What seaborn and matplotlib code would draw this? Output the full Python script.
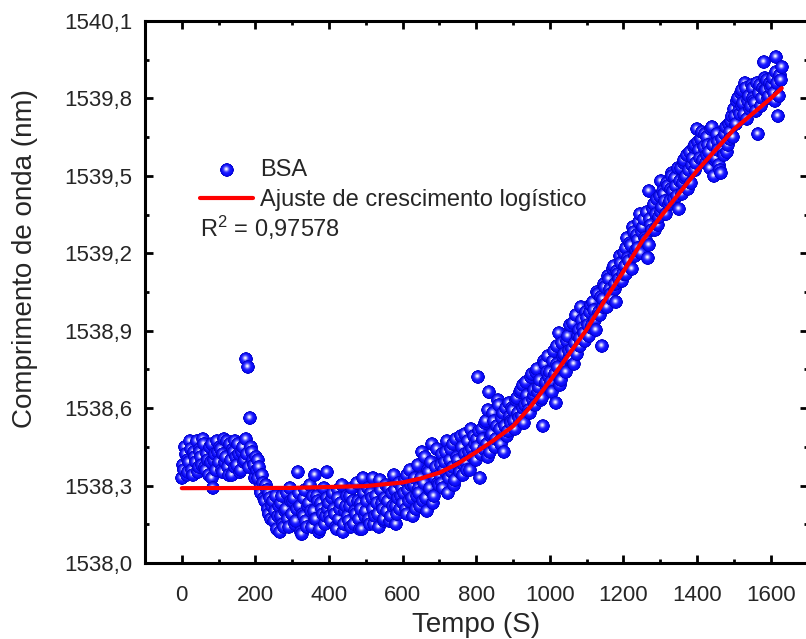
import numpy as np
import pandas as pd
import matplotlib
matplotlib.use("Agg")
import matplotlib.pyplot as plt
import seaborn as sns
from matplotlib.offsetbox import OffsetImage, AnnotationBbox
from matplotlib.ticker import MultipleLocator, FixedLocator

# ---------------- data ----------------
tempo_a = [
    0, 5, 10, 15, 20, 25, 30, 35, 40, 45, 50, 55, 60, 65, 70, 75, 80, 85, 90, 95,
    100, 105, 110, 115, 120, 125, 130, 135, 140, 145, 150, 155, 160, 165, 170, 175, 180, 185, 190, 195,
    200, 205, 210, 215, 220, 225, 230, 235, 240, 245, 250, 255, 260, 265, 270, 275, 280, 285, 290, 295,
    300, 305, 310, 315, 320, 325, 330, 335, 340, 345, 350, 355, 360, 365, 370, 375, 380, 385, 390, 395,
    400, 405, 410, 415, 420, 425, 430, 435, 440, 445, 450, 455, 460, 465, 470, 475, 480, 485, 490, 495,
    500, 505, 510, 515, 520, 525, 530, 535, 540, 545, 550, 555, 560, 565, 570, 575, 580, 585, 590, 595,
    600, 605, 610, 615, 620, 625, 630, 635, 640, 645, 650, 655, 660, 665, 670, 675, 680, 685, 690, 695,
    700, 705, 710, 715, 720, 725, 730, 735, 740, 745, 750, 755, 760, 765, 770, 775, 780, 785, 790, 795,
    800, 805, 810, 815, 820, 825, 830, 835, 840, 845, 850, 855, 860, 865, 870, 875, 880, 885, 890, 895,
    900, 905, 910, 915, 920, 925, 930, 935, 940, 945, 950, 955, 960, 965, 970, 975, 980, 985, 990, 995,
    1000, 1005, 1010, 1015, 1020, 1025, 1030, 1035, 1040, 1045, 1050, 1055, 1060, 1065, 1070, 1075, 1080, 1085, 1090, 1095,
    1100, 1105, 1110, 1115, 1120, 1125, 1130, 1135, 1140, 1145, 1150, 1155, 1160, 1165, 1170, 1175, 1180, 1185, 1190, 1195,
    1200, 1205, 1210, 1215, 1220, 1225, 1230, 1235, 1240, 1245, 1250, 1255, 1260, 1265, 1270, 1275, 1280, 1285, 1290, 1295,
    1300, 1305, 1310, 1315, 1320, 1325, 1330, 1335, 1340, 1345, 1350, 1355, 1360, 1365, 1370, 1375, 1380, 1385, 1390, 1395,
    1400, 1405, 1410, 1415, 1420, 1425, 1430, 1435, 1440, 1445, 1450, 1455, 1460, 1465, 1470, 1475, 1480, 1485, 1490, 1495,
    1500, 1505, 1510, 1515, 1520, 1525, 1530, 1535, 1540, 1545, 1550, 1555, 1560, 1565, 1570, 1575, 1580, 1585, 1590, 1595,
    1600, 1605, 1610, 1615, 1620, 1625, 1630,
]

bsa_a = [
    1538.33, 1538.36, 1538.42, 1538.35, 1538.39, 1538.44, 1538.34, 1538.41, 1538.47, 1538.37,
    1538.43, 1538.38, 1538.46, 1538.36, 1538.40, 1538.45, 1538.33, 1538.29, 1538.42, 1538.47,
    1538.39, 1538.44, 1538.35, 1538.48, 1538.41, 1538.37, 1538.46, 1538.34, 1538.43, 1538.47,
    1538.38, 1538.42, 1538.36, 1538.45, 1538.40, 1538.79, 1538.76, 1538.56, 1538.43, 1538.38,
    1538.41, 1538.33, 1538.37, 1538.27, 1538.31, 1538.24, 1538.28, 1538.19, 1538.25, 1538.22,
    1538.16, 1538.26, 1538.18, 1538.12, 1538.23, 1538.15, 1538.20, 1538.27, 1538.14, 1538.24,
    1538.19, 1538.25, 1538.16, 1538.35, 1538.22, 1538.11, 1538.18, 1538.28, 1538.14, 1538.23,
    1538.20, 1538.26, 1538.34, 1538.17, 1538.24, 1538.13, 1538.21, 1538.29, 1538.18, 1538.35,
    1538.23, 1538.16, 1538.27, 1538.19, 1538.13, 1538.25, 1538.21, 1538.30, 1538.15, 1538.22,
    1538.18, 1538.26, 1538.14, 1538.24, 1538.20, 1538.31, 1538.17, 1538.23, 1538.13, 1538.27,
    1538.20, 1538.29, 1538.15, 1538.25, 1538.33, 1538.18, 1538.23, 1538.14, 1538.28, 1538.21,
    1538.17, 1538.30, 1538.24, 1538.16, 1538.27, 1538.34, 1538.22, 1538.19, 1538.31, 1538.26,
    1538.23, 1538.32, 1538.19, 1538.28, 1538.36, 1538.25, 1538.30, 1538.21, 1538.38, 1538.27,
    1538.33, 1538.24, 1538.41, 1538.20, 1538.35, 1538.29, 1538.46, 1538.26, 1538.37, 1538.31,
    1538.34, 1538.42, 1538.29, 1538.39, 1538.47, 1538.33, 1538.44, 1538.37, 1538.30, 1538.48,
    1538.40, 1538.35, 1538.45, 1538.38, 1538.50, 1538.36, 1538.43, 1538.52, 1538.41, 1538.46,
    1538.48, 1538.72, 1538.33, 1538.52, 1538.44, 1538.55, 1538.41, 1538.66, 1538.49, 1538.58,
    1538.45, 1538.53, 1538.61, 1538.47, 1538.56, 1538.43, 1538.60, 1538.51, 1538.57, 1538.54,
    1538.59, 1538.52, 1538.64, 1538.56, 1538.67, 1538.60, 1538.54, 1538.70, 1538.62, 1538.58,
    1538.73, 1538.65, 1538.61, 1538.75, 1538.68, 1538.63, 1538.53, 1538.77, 1538.70, 1538.80,
    1538.74, 1538.66, 1538.82, 1538.62, 1538.77, 1538.89, 1538.71, 1538.80, 1538.75, 1538.86,
    1538.79, 1538.92, 1538.83, 1538.77, 1538.96, 1538.88, 1538.84, 1538.99, 1538.91, 1538.86,
    1538.95, 1538.88, 1539.00, 1538.92, 1538.98, 1538.90, 1539.04, 1538.96, 1538.84, 1539.02,
    1539.07, 1538.99, 1539.10, 1539.04, 1539.14, 1539.06, 1539.01, 1539.12, 1539.19, 1539.09,
    1539.20, 1539.12, 1539.26, 1539.17, 1539.23, 1539.30, 1539.19, 1539.27, 1539.22, 1539.35,
    1539.28, 1539.33, 1539.25, 1539.18, 1539.44, 1539.31, 1539.37, 1539.29, 1539.41, 1539.34,
    1539.48, 1539.38, 1539.43, 1539.35, 1539.46, 1539.40, 1539.51, 1539.44, 1539.49, 1539.42,
    1539.37, 1539.53, 1539.47, 1539.56, 1539.50, 1539.45, 1539.59, 1539.54, 1539.61, 1539.52,
    1539.68, 1539.60, 1539.64, 1539.56, 1539.66, 1539.58, 1539.62, 1539.53, 1539.69, 1539.50,
    1539.57, 1539.63, 1539.54, 1539.51, 1539.60, 1539.66, 1539.59, 1539.70, 1539.64, 1539.73,
    1539.76, 1539.70, 1539.80, 1539.74, 1539.83, 1539.78, 1539.86, 1539.72, 1539.81, 1539.77,
    1539.84, 1539.79, 1539.75, 1539.66, 1539.85, 1539.80, 1539.94, 1539.83, 1539.87, 1539.81,
    1539.84, 1539.88, 1539.79, 1539.96, 1539.73, 1539.89, 1539.92,
]

tempo_b = [
    2.5, 7.5, 12.5, 17.5, 22.5, 27.5, 32.5, 37.5, 42.5, 47.5, 52.5, 57.5, 62.5, 67.5, 72.5, 77.5, 82.5, 87.5, 92.5, 97.5,
    102.5, 107.5, 112.5, 117.5, 122.5, 127.5, 132.5, 137.5, 142.5, 147.5, 152.5, 157.5, 162.5, 167.5, 172.5, 177.5, 182.5, 187.5, 192.5, 197.5,
    202.5, 207.5, 212.5, 217.5, 222.5, 227.5, 232.5, 237.5, 242.5, 247.5, 252.5, 257.5, 262.5, 267.5, 272.5, 277.5, 282.5, 287.5, 292.5, 297.5,
    302.5, 307.5, 312.5, 317.5, 322.5, 327.5, 332.5, 337.5, 342.5, 347.5, 352.5, 357.5, 362.5, 367.5, 372.5, 377.5, 382.5, 387.5, 392.5, 397.5,
    402.5, 407.5, 412.5, 417.5, 422.5, 427.5, 432.5, 437.5, 442.5, 447.5, 452.5, 457.5, 462.5, 467.5, 472.5, 477.5, 482.5, 487.5, 492.5, 497.5,
    502.5, 507.5, 512.5, 517.5, 522.5, 527.5, 532.5, 537.5, 542.5, 547.5, 552.5, 557.5, 562.5, 567.5, 572.5, 577.5, 582.5, 587.5, 592.5, 597.5,
    602.5, 607.5, 612.5, 617.5, 622.5, 627.5, 632.5, 637.5, 642.5, 647.5, 652.5, 657.5, 662.5, 667.5, 672.5, 677.5, 682.5, 687.5, 692.5, 697.5,
    702.5, 707.5, 712.5, 717.5, 722.5, 727.5, 732.5, 737.5, 742.5, 747.5, 752.5, 757.5, 762.5, 767.5, 772.5, 777.5, 782.5, 787.5, 792.5, 797.5,
    802.5, 807.5, 812.5, 817.5, 822.5, 827.5, 832.5, 837.5, 842.5, 847.5, 852.5, 857.5, 862.5, 867.5, 872.5, 877.5, 882.5, 887.5, 892.5, 897.5,
    902.5, 907.5, 912.5, 917.5, 922.5, 927.5, 932.5, 937.5, 942.5, 947.5, 952.5, 957.5, 962.5, 967.5, 972.5, 977.5, 982.5, 987.5, 992.5, 997.5,
    1002.5, 1007.5, 1012.5, 1017.5, 1022.5, 1027.5, 1032.5, 1037.5, 1042.5, 1047.5, 1052.5, 1057.5, 1062.5, 1067.5, 1072.5, 1077.5, 1082.5, 1087.5, 1092.5, 1097.5,
    1102.5, 1107.5, 1112.5, 1117.5, 1122.5, 1127.5, 1132.5, 1137.5, 1142.5, 1147.5, 1152.5, 1157.5, 1162.5, 1167.5, 1172.5, 1177.5, 1182.5, 1187.5, 1192.5, 1197.5,
    1202.5, 1207.5, 1212.5, 1217.5, 1222.5, 1227.5, 1232.5, 1237.5, 1242.5, 1247.5, 1252.5, 1257.5, 1262.5, 1267.5, 1272.5, 1277.5, 1282.5, 1287.5, 1292.5, 1297.5,
    1302.5, 1307.5, 1312.5, 1317.5, 1322.5, 1327.5, 1332.5, 1337.5, 1342.5, 1347.5, 1352.5, 1357.5, 1362.5, 1367.5, 1372.5, 1377.5, 1382.5, 1387.5, 1392.5, 1397.5,
    1402.5, 1407.5, 1412.5, 1417.5, 1422.5, 1427.5, 1432.5, 1437.5, 1442.5, 1447.5, 1452.5, 1457.5, 1462.5, 1467.5, 1472.5, 1477.5, 1482.5, 1487.5, 1492.5, 1497.5,
    1502.5, 1507.5, 1512.5, 1517.5, 1522.5, 1527.5, 1532.5, 1537.5, 1542.5, 1547.5, 1552.5, 1557.5, 1562.5, 1567.5, 1572.5, 1577.5, 1582.5, 1587.5, 1592.5, 1597.5,
    1602.5, 1607.5, 1612.5, 1617.5, 1622.5, 1627.5,
]

bsa_b = [
    1538.38, 1538.45, 1538.34, 1538.40, 1538.47, 1538.36, 1538.43, 1538.39, 1538.35, 1538.44,
    1538.41, 1538.48, 1538.37, 1538.42, 1538.34, 1538.39, 1538.46, 1538.40, 1538.36, 1538.43,
    1538.45, 1538.36, 1538.42, 1538.39, 1538.47, 1538.34, 1538.40, 1538.44, 1538.37, 1538.41,
    1538.46, 1538.35, 1538.43, 1538.39, 1538.48, 1538.42, 1538.37, 1538.45, 1538.40, 1538.33,
    1538.36, 1538.40, 1538.29, 1538.34, 1538.25, 1538.30, 1538.21, 1538.27, 1538.17, 1538.24,
    1538.20, 1538.13, 1538.22, 1538.18, 1538.26, 1538.14, 1538.21, 1538.17, 1538.29, 1538.19,
    1538.24, 1538.15, 1538.21, 1538.27, 1538.12, 1538.19, 1538.25, 1538.16, 1538.22, 1538.30,
    1538.14, 1538.20, 1538.17, 1538.26, 1538.12, 1538.23, 1538.19, 1538.15, 1538.25, 1538.21,
    1538.18, 1538.25, 1538.21, 1538.14, 1538.28, 1538.17, 1538.23, 1538.12, 1538.20, 1538.26,
    1538.16, 1538.22, 1538.29, 1538.15, 1538.19, 1538.24, 1538.13, 1538.21, 1538.33, 1538.18,
    1538.24, 1538.17, 1538.27, 1538.21, 1538.15, 1538.26, 1538.19, 1538.32, 1538.23, 1538.16,
    1538.25, 1538.20, 1538.29, 1538.18, 1538.22, 1538.28, 1538.15, 1538.25, 1538.21, 1538.29,
    1538.27, 1538.21, 1538.34, 1538.24, 1538.30, 1538.18, 1538.33, 1538.26, 1538.29, 1538.22,
    1538.43, 1538.31, 1538.25, 1538.36, 1538.28, 1538.39, 1538.23, 1538.33, 1538.44, 1538.30,
    1538.38, 1538.31, 1538.36, 1538.43, 1538.27, 1538.40, 1538.35, 1538.46, 1538.32, 1538.41,
    1538.37, 1538.49, 1538.34, 1538.42, 1538.39, 1538.47, 1538.36, 1538.44, 1538.49, 1538.40,
    1538.45, 1538.51, 1538.42, 1538.48, 1538.54, 1538.46, 1538.59, 1538.43, 1538.50, 1538.55,
    1538.48, 1538.63, 1538.52, 1538.46, 1538.58, 1538.53, 1538.49, 1538.62, 1538.55, 1538.60,
    1538.55, 1538.63, 1538.58, 1538.66, 1538.57, 1538.69, 1538.61, 1538.65, 1538.59, 1538.72,
    1538.63, 1538.67, 1538.74, 1538.66, 1538.71, 1538.64, 1538.78, 1538.69, 1538.74, 1538.72,
    1538.70, 1538.78, 1538.73, 1538.84, 1538.76, 1538.69, 1538.85, 1538.81, 1538.74, 1538.88,
    1538.82, 1538.79, 1538.93, 1538.85, 1538.81, 1538.90, 1538.87, 1538.94, 1538.89, 1538.97,
    1538.92, 1538.97, 1538.91, 1539.01, 1538.94, 1539.05, 1538.97, 1539.03, 1538.99, 1539.08,
    1539.00, 1539.11, 1539.06, 1539.02, 1539.15, 1539.08, 1539.13, 1539.10, 1539.16, 1539.12,
    1539.15, 1539.22, 1539.18, 1539.24, 1539.14, 1539.28, 1539.21, 1539.25, 1539.32, 1539.20,
    1539.30, 1539.26, 1539.36, 1539.23, 1539.33, 1539.29, 1539.39, 1539.35, 1539.31, 1539.42,
    1539.36, 1539.44, 1539.40, 1539.47, 1539.39, 1539.45, 1539.50, 1539.41, 1539.46, 1539.53,
    1539.48, 1539.43, 1539.55, 1539.49, 1539.58, 1539.52, 1539.47, 1539.57, 1539.62, 1539.55,
    1539.63, 1539.57, 1539.67, 1539.61, 1539.55, 1539.65, 1539.59, 1539.68, 1539.62, 1539.56,
    1539.66, 1539.60, 1539.52, 1539.64, 1539.58, 1539.69, 1539.62, 1539.67, 1539.71, 1539.65,
    1539.73, 1539.79, 1539.75, 1539.82, 1539.77, 1539.74, 1539.84, 1539.79, 1539.76, 1539.85,
    1539.80, 1539.78, 1539.86, 1539.82, 1539.77, 1539.84, 1539.88, 1539.83, 1539.80, 1539.86,
    1539.85, 1539.82, 1539.90, 1539.86, 1539.81, 1539.87,
]

ajuste_tempo = [0, 300, 500, 600, 650, 700, 750, 800, 850, 900, 950, 1000, 1050, 1100,
                1150, 1200, 1250, 1300, 1350, 1400, 1450, 1500, 1550, 1600, 1630]
ajuste_valor = [1538.290, 1538.291, 1538.298, 1538.312, 1538.328, 1538.350, 1538.385,
                1538.430, 1538.478, 1538.530, 1538.610, 1538.705, 1538.805, 1538.905,
                1539.020, 1539.130, 1539.245, 1539.340, 1539.430, 1539.520, 1539.600,
                1539.680, 1539.740, 1539.800, 1539.840]

x_ticks = [0, 200, 400, 600, 800, 1000, 1200, 1400, 1600]
x_tick_labels = ["0", "200", "400", "600", "800", "1000", "1200", "1400", "1600"]
y_ticks = [1538.0, 1538.3, 1538.6, 1538.9, 1539.2, 1539.5, 1539.8, 1540.1]
y_tick_labels = ["1538,0", "1538,3", "1538,6", "1538,9", "1539,2", "1539,5", "1539,8", "1540,1"]

serie_label = "BSA"
ajuste_label = "Ajuste de crescimento logístico"
r2_text = "R$^2$ = 0,97578"
x_label = "Tempo (S)"
y_label = "Comprimento de onda (nm)"

# ---------------- style ----------------
sns.set_style("ticks")
plt.rcParams["font.family"] = ["Liberation Sans", "DejaVu Sans"]
plt.rcParams["mathtext.default"] = "regular"
plt.rcParams["axes.linewidth"] = 2.2

W, H = 806, 639
fig = plt.figure(figsize=(W / 100, H / 100), dpi=100)
ax_left, ax_right, ax_top, ax_bottom = 145, 807.5, 21, 563
ax_w, ax_h = ax_right - ax_left, ax_bottom - ax_top
ax = fig.add_axes([ax_left / W, 1 - ax_bottom / H, ax_w / W, ax_h / H])

df = pd.concat([pd.DataFrame({"tempo": tempo_a, "bsa": bsa_a}),
                pd.DataFrame({"tempo": tempo_b, "bsa": bsa_b})])
df = df.sort_values("tempo", kind="stable").reset_index(drop=True)
fit = pd.DataFrame({"tempo": ajuste_tempo, "valor": ajuste_valor})

MARKER_PX = 13.5
s_pts = (MARKER_PX * 72 / 100) ** 2
sns.scatterplot(data=df, x="tempo", y="bsa", ax=ax, color="#0000ff", s=s_pts * 0.85,
                edgecolor="none", linewidth=0, zorder=2, label=serie_label)


def sphere_image(n=56):
    v, u = np.mgrid[-1:1:n * 1j, -1:1:n * 1j]
    r = np.sqrt(u ** 2 + v ** 2)
    alpha = np.clip((1 - r) * n / 2.0, 0, 1)
    base = np.array([0.05, 0.05, 1.0])
    dark = np.array([0.0, 0.0, 0.75])
    light = np.array([0.97, 0.97, 1.0])
    edge = (np.clip((r - 0.65) / 0.35, 0, 1) ** 1.5)[..., None]
    col = base * (1 - edge) + dark * edge
    d = np.sqrt((u + 0.10) ** 2 + (v + 0.14) ** 2)
    h = np.exp(-(d / 0.36) ** 2)[..., None]
    col = col * (1 - h) + light * h
    return np.dstack([col, alpha])


sph = sphere_image()
zoom = MARKER_PX / (sph.shape[0] * 100 / 72)
for t, yv in zip(df["tempo"], df["bsa"]):
    ab = AnnotationBbox(OffsetImage(sph, zoom=zoom), (t, yv), xycoords="data",
                        frameon=False, pad=0, zorder=3)
    ax.add_artist(ab)

sns.lineplot(data=fit, x="tempo", y="valor", ax=ax, color="#ff0000", linewidth=3,
             zorder=5, label=ajuste_label)

ax.set_xlim(-100, 1700)
ax.set_ylim(1538.0, 1540.1)
ax.set_xticks(x_ticks, x_tick_labels)
ax.set_yticks(y_ticks, y_tick_labels)
ax.xaxis.set_minor_locator(MultipleLocator(100))
ax.yaxis.set_minor_locator(FixedLocator(np.arange(1538.15, 1540.1, 0.3)))
ax.tick_params(which="both", direction="in", top=True, right=True, width=2, color="black")
ax.tick_params(which="major", length=6)
ax.tick_params(which="minor", length=3)
ax.tick_params(axis="x", pad=16, labelsize=16)
ax.tick_params(axis="y", pad=9, labelsize=16)
for sp in ax.spines.values():
    sp.set_color("black")
    sp.set_linewidth(2.2)

ax.set_xlabel(x_label, fontsize=20, va="center")
ax.set_ylabel(y_label, fontsize=20, va="center")
ax.xaxis.set_label_coords(0.5, (ax_bottom - 625) / ax_h)
ax.yaxis.set_label_coords((25 - ax_left) / ax_w, (ax_bottom - 258) / ax_h)

handles, labels = ax.get_legend_handles_labels()
leg = ax.legend(handles, labels, loc="upper left",
                bbox_to_anchor=((200 - ax_left) / ax_w, (ax_bottom - 159) / ax_h),
                frameon=False, borderpad=0, borderaxespad=0, handlelength=2.25,
                handletextpad=0.3, labelspacing=0.35, fontsize=17, markerscale=1.0)

ax.text((200.5 - ax_left) / ax_w, (ax_bottom - 237) / ax_h, r2_text,
        transform=ax.transAxes, fontsize=17, ha="left", va="baseline")

fig.canvas.draw()
lh = leg.legend_handles[0]
pos = lh.get_offset_transform().transform(lh.get_offsets())[0]
fig.add_artist(AnnotationBbox(OffsetImage(sph, zoom=zoom), (pos[0], pos[1]), xycoords="figure pixels",
                              frameon=False, pad=0, zorder=10))

fig.savefig("out.png", dpi=100)
